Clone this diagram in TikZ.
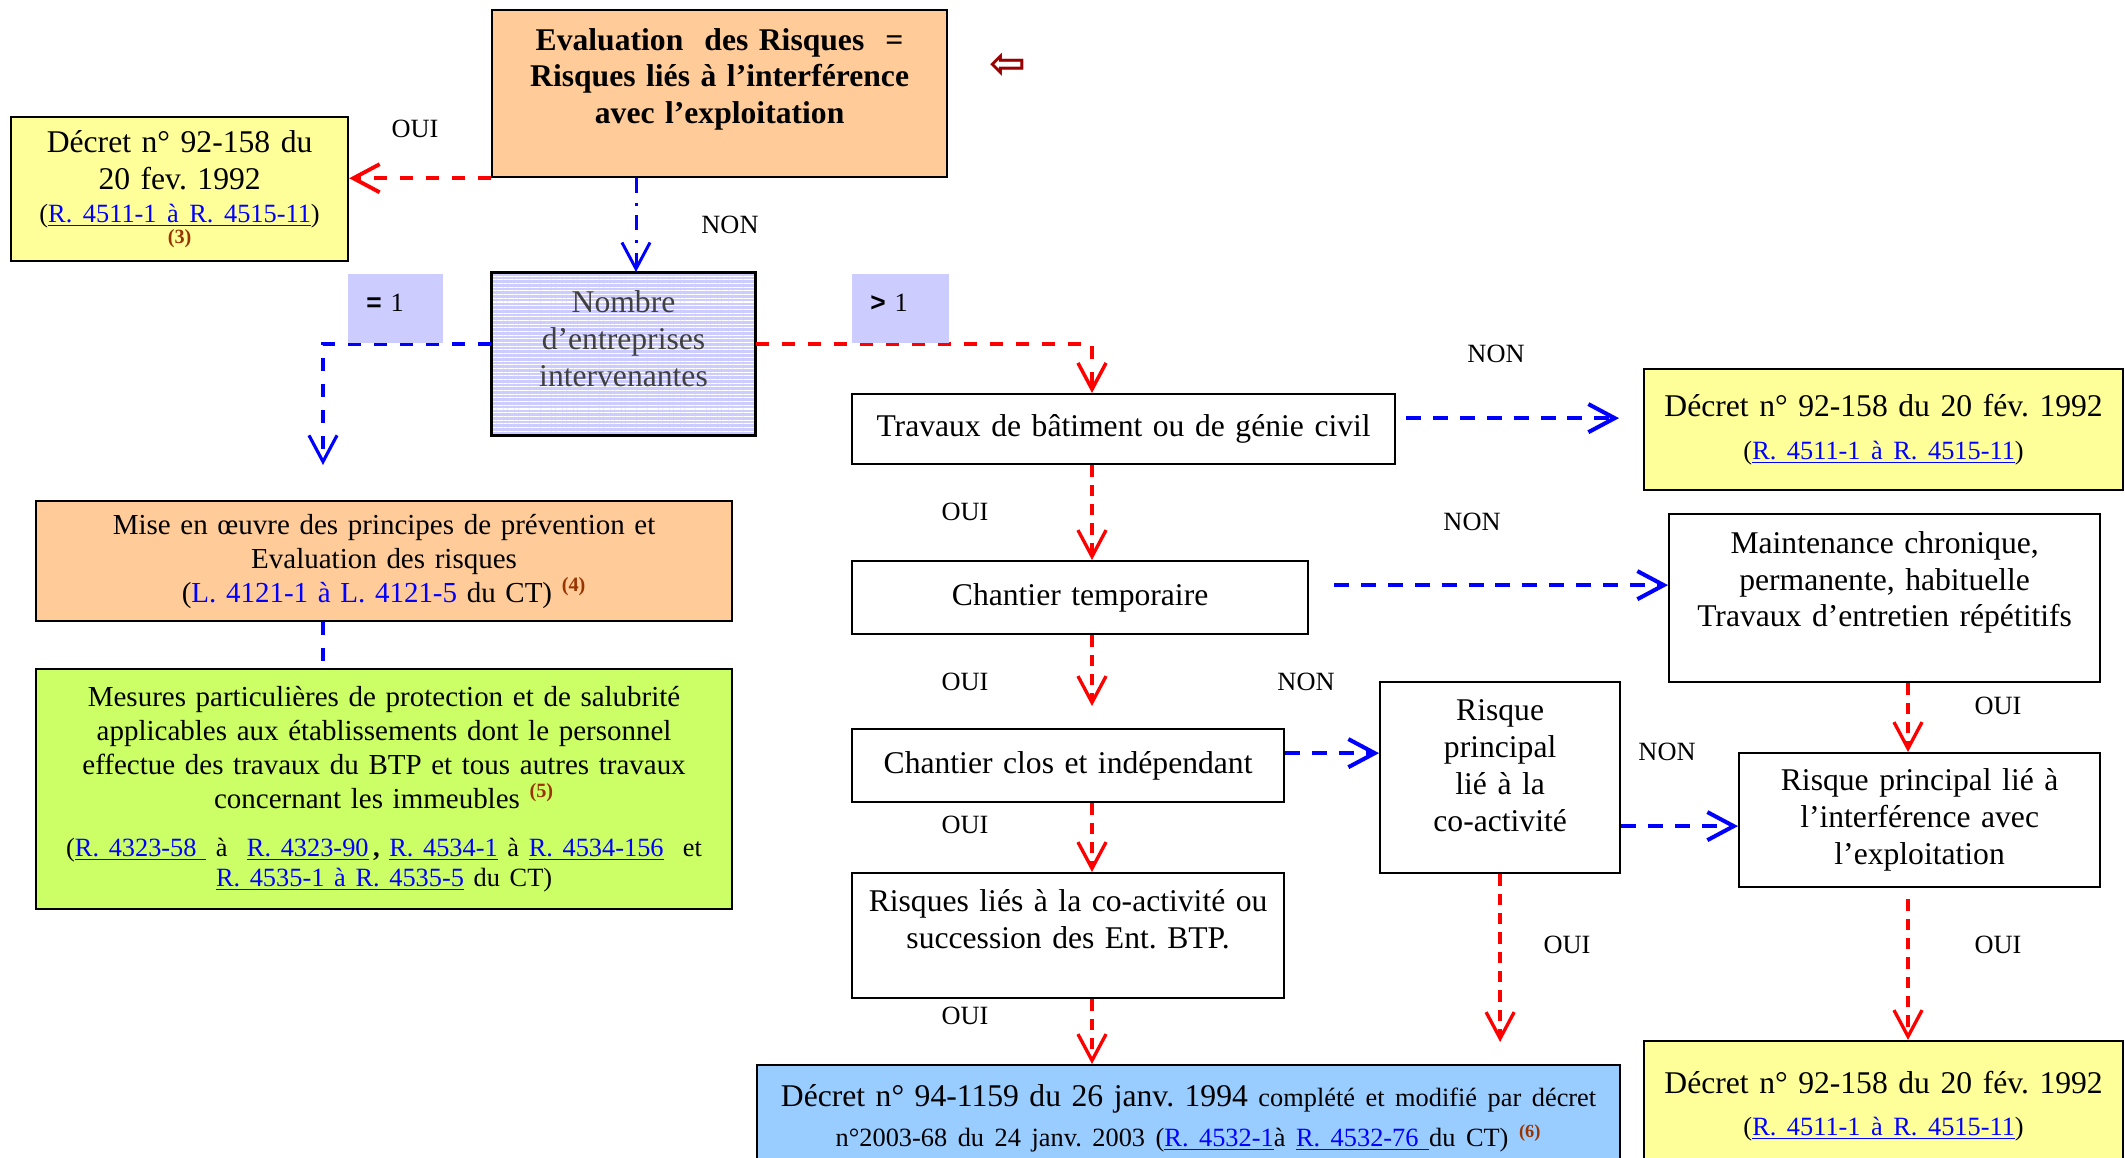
\documentclass[tikz,border=0pt]{standalone}
\usepackage{fontspec}
\setmainfont{Liberation Serif}
\setsansfont{Liberation Sans}
\newfontfamily\symbfont{DejaVu Sans}
\usetikzlibrary{arrows.meta,patterns.meta}
\frenchspacing

\definecolor{saumon}{HTML}{FFCC99}
\definecolor{jaune}{HTML}{FFFF99}
\definecolor{lavande}{HTML}{CCCCFF}
\definecolor{pomme}{HTML}{CCFF66}
\definecolor{ciel}{HTML}{99CCFF}
\definecolor{brique}{HTML}{993300}
\definecolor{bordeaux}{HTML}{990000}
\definecolor{bleulien}{HTML}{0000FF}

\newcommand{\grand}{\fontsize{18}{21}\selectfont}
\newcommand{\moyen}{\fontsize{16.5}{19.3}\selectfont}
\newcommand{\petit}{\fontsize{15}{18}\selectfont}
\newcommand{\reflien}[1]{\textcolor{bleulien}{\underline{#1}}}
\newcommand{\renv}[1]{\textsuperscript{\textbf{\textcolor{brique}{#1}}}}

\begin{document}
\begin{tikzpicture}[
    x=0.02cm, y=-0.02cm,
    boite/.style={rectangle, draw, line width=1.3pt, anchor=north west, align=center, inner sep=2pt, font=\grand},
    compte/.style={anchor=north west, fill=lavande, font=\petit, align=left, inner xsep=0.36cm, text depth=0.26cm, minimum height=1.38cm},
    etiquette/.style={font=\petit},
    pointe/.style={-{Straight Barb[length=15pt,width=16pt]}},
    rouge/.style={red, line width=1.9pt, dash pattern=on 6.5pt off 4.5pt, pointe},
    rougelarge/.style={red, line width=2.2pt, dash pattern=on 7.4pt off 7.4pt, pointe},
    bleularge/.style={blue, line width=2.3pt, dash pattern=on 8.5pt off 6.8pt, pointe},
    bleufin/.style={blue, line width=1.8pt, dash pattern=on 7.4pt off 7.4pt},
    bleumixte/.style={blue, line width=1.7pt, dash pattern=on 8.5pt off 5.5pt on 1.7pt off 5.5pt, pointe}
]
    \useasboundingbox (0,0) rectangle (2125,1158);

    % colonnes des fleches
    \coordinate (axe0) at (636,0);
    \coordinate (gauche) at (323,0);
    \coordinate (axe) at (1092,0);
    \coordinate (axe2) at (1908,0);
    \coordinate (partage) at (0,344);
    \coordinate (bout) at (323,465);

    % boites
    \node[boite, fill=saumon, font=\grand\bfseries, text width=8.8cm, minimum width=9.1cm, minimum height=3.34cm, text depth=2.18cm] (risques) at (491,9)
        {Evaluation\ \ des Risques\ \ =\\Risques liés à l’interférence\\avec l’exploitation};
    \node[text=bordeaux, font=\symbfont\bfseries\fontsize{25}{27}\selectfont] (retour) at (1008,66) {⇦};
    \node[boite, fill=jaune, text width=6.5cm, minimum width=6.74cm, minimum height=2.88cm] (decret1) at (10,116)
        {Décret n° 92-158 du\\20 fev. 1992\\[-2.3pt]{\petit(\reflien{R. 4511-1 à R. 4515-11})}\\[-9pt]{\fontsize{11.5}{13}\selectfont\bfseries\color{brique}(3)}};
    \node[boite, preaction={fill=lavande}, pattern={Lines[angle=0,distance=2.1pt,line width=0.6pt]}, pattern color=white,
        text=black!75, text width=5cm, minimum width=5.28cm, minimum height=3.26cm, text depth=2.1cm] (nombre) at (491,272)
        {Nombre\\d’entreprises\\intervenantes};
    \node[boite, fill=saumon, font=\moyen, text width=13.6cm, minimum width=13.92cm, minimum height=2.4cm] (mise) at (35,500)
        {Mise en œuvre des principes de prévention et\\Evaluation des risques\\(\textcolor{bleulien}{L. 4121-1 à L. 4121-5} du CT) \renv{(4)}};
    \node[boite, fill=pomme, font=\moyen, text width=13.6cm, minimum width=13.92cm, minimum height=4.8cm] (mesures) at (35,668)
        {Mesures particulières de protection et de salubrité\\applicables aux établissements dont le personnel\\effectue des travaux du BTP et tous autres travaux\\concernant les immeubles \renv{(5)}\\[8pt]
        {\petit(\reflien{R. 4323-58 } à\ \ \reflien{R. 4323-90}\,\textbf{,} \reflien{R. 4534-1} à \reflien{R. 4534-156}\ \ et}\\[-2pt]
        {\petit\reflien{R. 4535-1 à R. 4535-5} du CT)}};
    \node[boite, text width=10.6cm, minimum width=10.86cm, minimum height=1.4cm] (travaux) at (851,393)
        {Travaux de bâtiment ou de génie civil};
    \node[boite, fill=jaune, text width=9.3cm, minimum width=9.58cm, minimum height=2.42cm] (decret2) at (1643,368)
        {Décret n° 92-158 du 20 fév. 1992\\[3pt]{\petit(\reflien{R. 4511-1 à R. 4515-11})}};
    \node[boite, text width=8.9cm, minimum width=9.12cm, minimum height=1.46cm] (chtemp) at (851,560)
        {Chantier temporaire};
    \node[boite, text width=8.4cm, minimum width=8.62cm, minimum height=3.36cm, text depth=2.24cm] (maint) at (1668,513)
        {Maintenance chronique,\\permanente, habituelle\\Travaux d’entretien répétitifs};
    \node[boite, text width=8.4cm, minimum width=8.64cm, minimum height=1.46cm] (chclos) at (851,728)
        {Chantier clos et indépendant};
    \node[boite, text width=4.6cm, minimum width=4.8cm, minimum height=3.82cm, text depth=2.7cm] (risqueco) at (1379,681)
        {Risque\\principal\\lié à la\\co-activité};
    \node[boite, text width=7cm, minimum width=7.22cm, minimum height=2.68cm] (interf) at (1738,752)
        {Risque principal lié à\\l’interférence avec\\l’exploitation};
    \node[boite, text width=8.4cm, minimum width=8.64cm, minimum height=2.5cm, text depth=1.42cm] (risqlies) at (851,872)
        {Risques liés à la co-activité ou\\succession des Ent. BTP.};
    \node[boite, fill=ciel, text width=17cm, minimum width=17.26cm, minimum height=2.12cm] (decret94) at (756,1064)
        {Décret n° 94-1159 du 26 janv. 1994 {\petit complété et modifié par décret}\\[1.7pt]{\petit n°2003-68 du 24 janv. 2003 (\reflien{R. 4532-1}à \reflien{R. 4532-76 }du CT) \renv{(6)}}};
    \node[boite, fill=jaune, text width=9.3cm, minimum width=9.58cm, minimum height=2.6cm] (decret3) at (1643,1040)
        {Décret n° 92-158 du 20 fév. 1992\\[3pt]{\petit(\reflien{R. 4511-1 à R. 4515-11})}};

    % fleches
    \draw[rougelarge] (risques.south west) -- (risques.south west -| decret1.east);
    \draw[bleumixte] (risques.south -| axe0) -- (nombre.north -| axe0);
    \draw[bleufin, pointe] (nombre.west |- partage) -| (bout);
    \draw[rougelarge, line width=2pt] (nombre.east |- partage) -| (travaux.north -| axe);
    \draw[bleufin] (mise.south -| gauche) -- (mesures.north -| gauche);
    \draw[bleularge, shorten <=0.2cm, shorten >=0.48cm] ([yshift=0.22cm]travaux.east) -- ([yshift=0.22cm]travaux.east -| decret2.west);
    \draw[rouge] (travaux.south -| axe) -- (chtemp.north -| axe);
    \draw[bleularge, shorten <=0.5cm] ([yshift=0.25cm]chtemp.east) -- ([yshift=0.25cm]chtemp.east -| maint.west);
    \draw[rouge, shorten >=0.44cm] (chtemp.south -| axe) -- (chclos.north -| axe);
    \draw[bleularge] ([yshift=0.25cm]chclos.east) -- ([yshift=0.25cm]chclos.east -| risqueco.west);
    \draw[rouge] (chclos.south -| axe) -- (risqlies.north -| axe);
    \draw[bleularge] ([yshift=-0.12cm]interf.west -| risqueco.east) -- ([yshift=-0.12cm]interf.west);
    \draw[rouge] (maint.south -| axe2) -- (interf.north -| axe2);
    \draw[rouge] (risqlies.south -| axe) -- (decret94.north -| axe);
    \draw[rouge, shorten >=0.44cm] (risqueco.south) -- (risqueco.south |- decret94.north);
    \draw[rouge, shorten <=0.22cm] (interf.south -| axe2) -- (decret3.north -| axe2);

    % cases de comptage
    \node[compte, text width=1.18cm] (egal) at (348,274) {{\sffamily\bfseries =} 1};
    \node[compte, text width=1.22cm] (plus) at (852,274) {{\sffamily\bfseries >} 1};

    % OUI / NON
    \node[etiquette] (oui1) at (415,129) {OUI};
    \node[etiquette] (non1) at (730,225) {NON};
    \node[etiquette] (non2) at (1496,354) {NON};
    \node[etiquette] (oui2) at (965,512) {OUI};
    \node[etiquette] (non3) at (1472,522) {NON};
    \node[etiquette] (oui3) at (965,682) {OUI};
    \node[etiquette] (non4) at (1306,682) {NON};
    \node[etiquette] (oui4) at (1998,706) {OUI};
    \node[etiquette] (non5) at (1667,752) {NON};
    \node[etiquette] (oui5) at (965,825) {OUI};
    \node[etiquette] (oui6) at (1567,945) {OUI};
    \node[etiquette] (oui7) at (1998,945) {OUI};
    \node[etiquette] (oui8) at (965,1016) {OUI};
\end{tikzpicture}
\end{document}
